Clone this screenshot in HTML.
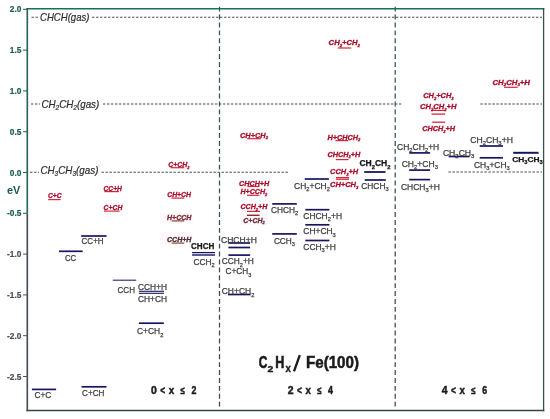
<!DOCTYPE html>
<html><head><meta charset="utf-8"><style>
html,body{margin:0;padding:0;background:#fff;}
body{width:550px;height:419px;overflow:hidden;}
svg{display:block;font-family:"Liberation Sans", sans-serif;will-change:transform;}
#w{width:550px;height:419px;}
</style></head><body><div id="w">
<svg width="550" height="419" viewBox="0 0 550 419">
<defs><linearGradient id="vg" x1="0" y1="0" x2="0" y2="419" gradientUnits="userSpaceOnUse"><stop offset="0" stop-color="#2a5853"/><stop offset="0.45" stop-color="#34504e"/><stop offset="0.6" stop-color="#424848"/><stop offset="1" stop-color="#444444"/></linearGradient></defs>
<rect width="550" height="419" fill="#fff"/>
<line x1="31.5" y1="17.3" x2="38" y2="17.3" stroke="#4c4c4c" stroke-width="1.1" stroke-dasharray="2.4 1.6"/>
<line x1="92" y1="17.3" x2="542" y2="17.3" stroke="#4c4c4c" stroke-width="1.1" stroke-dasharray="2.4 1.6"/>
<line x1="31" y1="104.0" x2="40" y2="104.0" stroke="#4c4c4c" stroke-width="1.1" stroke-dasharray="2.4 1.6"/>
<line x1="103" y1="104.0" x2="402" y2="104.0" stroke="#4c4c4c" stroke-width="1.1" stroke-dasharray="2.4 1.6"/>
<line x1="480.4" y1="104.0" x2="542" y2="104.0" stroke="#4c4c4c" stroke-width="1.1" stroke-dasharray="2.4 1.6"/>
<line x1="30" y1="172.3" x2="39" y2="172.3" stroke="#4c4c4c" stroke-width="1.1" stroke-dasharray="2.4 1.6"/>
<line x1="101.5" y1="172.3" x2="289" y2="172.3" stroke="#4c4c4c" stroke-width="1.1" stroke-dasharray="2.4 1.6"/>
<line x1="448.5" y1="172.0" x2="542" y2="172.0" stroke="#4c4c4c" stroke-width="1.1" stroke-dasharray="2.4 1.6"/>
<line x1="219.5" y1="6.7" x2="219.5" y2="406.5" stroke="url(#vg)" stroke-width="1.25" stroke-dasharray="4.9 3.0"/>
<line x1="395.2" y1="6.7" x2="395.2" y2="406.5" stroke="url(#vg)" stroke-width="1.25" stroke-dasharray="4.9 3.0"/>
<line x1="26.5" y1="8.75" x2="544.3" y2="8.75" stroke="#16705a" stroke-width="1.4"/>
<line x1="543.6" y1="8.1" x2="543.6" y2="411.3" stroke="#34504c" stroke-width="1.3"/>
<line x1="26.5" y1="410.6" x2="544.3" y2="410.6" stroke="#35434a" stroke-width="1.5"/>
<line x1="27.3" y1="8.1" x2="27.3" y2="213.4" stroke="#28685b" stroke-width="1.7"/>
<line x1="27.3" y1="213.4" x2="27.3" y2="411.3" stroke="#4a5055" stroke-width="1.7"/>
<line x1="23.0" y1="9.3" x2="27.3" y2="9.3" stroke="#1e5e53" stroke-width="1.0"/>
<text x="21.4" y="12.30" font-size="8.3" fill="#1e5e53" stroke="#1e5e53" stroke-width="0.2" font-weight="bold" text-anchor="end">2.0</text>
<line x1="23.0" y1="50.1" x2="27.3" y2="50.1" stroke="#1e5e53" stroke-width="1.0"/>
<text x="21.4" y="53.10" font-size="8.3" fill="#1e5e53" stroke="#1e5e53" stroke-width="0.2" font-weight="bold" text-anchor="end">1.5</text>
<line x1="23.0" y1="90.9" x2="27.3" y2="90.9" stroke="#1e5e53" stroke-width="1.0"/>
<text x="21.4" y="93.90" font-size="8.3" fill="#1e5e53" stroke="#1e5e53" stroke-width="0.2" font-weight="bold" text-anchor="end">1.0</text>
<line x1="23.0" y1="131.7" x2="27.3" y2="131.7" stroke="#1e5e53" stroke-width="1.0"/>
<text x="21.4" y="134.70" font-size="8.3" fill="#1e5e53" stroke="#1e5e53" stroke-width="0.2" font-weight="bold" text-anchor="end">0.5</text>
<line x1="23.0" y1="172.5" x2="27.3" y2="172.5" stroke="#1e5e53" stroke-width="1.0"/>
<text x="21.4" y="175.50" font-size="8.3" fill="#1e5e53" stroke="#1e5e53" stroke-width="0.2" font-weight="bold" text-anchor="end">0.0</text>
<line x1="23.0" y1="213.3" x2="27.3" y2="213.3" stroke="#1e5e53" stroke-width="1.0"/>
<text x="21.4" y="216.30" font-size="8.3" fill="#1e5e53" stroke="#1e5e53" stroke-width="0.2" font-weight="bold" text-anchor="end">-0.5</text>
<line x1="23.0" y1="254.1" x2="27.3" y2="254.1" stroke="#4a5055" stroke-width="1.0"/>
<text x="21.4" y="257.10" font-size="8.3" fill="#4a5055" stroke="#4a5055" stroke-width="0.2" font-weight="bold" text-anchor="end">-1.0</text>
<line x1="23.0" y1="294.9" x2="27.3" y2="294.9" stroke="#4a5055" stroke-width="1.0"/>
<text x="21.4" y="297.90" font-size="8.3" fill="#4a5055" stroke="#4a5055" stroke-width="0.2" font-weight="bold" text-anchor="end">-1.5</text>
<line x1="23.0" y1="335.7" x2="27.3" y2="335.7" stroke="#4a5055" stroke-width="1.0"/>
<text x="21.4" y="338.70" font-size="8.3" fill="#4a5055" stroke="#4a5055" stroke-width="0.2" font-weight="bold" text-anchor="end">-2.0</text>
<line x1="23.0" y1="376.5" x2="27.3" y2="376.5" stroke="#4a5055" stroke-width="1.0"/>
<text x="21.4" y="379.50" font-size="8.3" fill="#4a5055" stroke="#4a5055" stroke-width="0.2" font-weight="bold" text-anchor="end">-2.5</text>
<text x="7.0" y="193.8" font-size="10.8" fill="#1a5a50" font-weight="bold" font-style="normal" textLength="13.40" lengthAdjust="spacingAndGlyphs">eV</text>
<text x="40.0" y="21.1" font-size="10.4" fill="#2c2c2c" font-weight="normal" font-style="italic" textLength="49.50" lengthAdjust="spacingAndGlyphs" stroke="#2c2c2c" stroke-width="0.2">CHCH(gas)</text>
<text x="41.4" y="107.8" font-size="10.2" fill="#2c2c2c" font-weight="normal" font-style="italic" textLength="57.90" lengthAdjust="spacingAndGlyphs" stroke="#2c2c2c" stroke-width="0.2">CH<tspan font-size="6.73" dy="2.04">2</tspan><tspan dy="-2.04">​</tspan>CH<tspan font-size="6.73" dy="2.04">2</tspan><tspan dy="-2.04">​</tspan>(gas)</text>
<text x="40.4" y="173.8" font-size="10.2" fill="#2c2c2c" font-weight="normal" font-style="italic" textLength="58.10" lengthAdjust="spacingAndGlyphs" stroke="#2c2c2c" stroke-width="0.2">CH<tspan font-size="6.73" dy="2.04">3</tspan><tspan dy="-2.04">​</tspan>CH<tspan font-size="6.73" dy="2.04">3</tspan><tspan dy="-2.04">​</tspan>(gas)</text>
<line x1="48.2" y1="199.6" x2="60.7" y2="199.6" stroke="#d8263c" stroke-width="1.2"/>
<text x="47.9" y="198.4" font-size="7.45" fill="#a80f2c" font-weight="bold" font-style="italic" textLength="13.60" lengthAdjust="spacingAndGlyphs" stroke="#a80f2c" stroke-width="0.3">C+C</text>
<line x1="104.4" y1="191.6" x2="118.9" y2="191.6" stroke="#d8263c" stroke-width="1.2"/>
<text x="103.6" y="190.7" font-size="7.45" fill="#a80f2c" font-weight="bold" font-style="italic" textLength="18.20" lengthAdjust="spacingAndGlyphs" stroke="#a80f2c" stroke-width="0.3">CC+H</text>
<line x1="104.0" y1="211.1" x2="119.6" y2="211.1" stroke="#d8263c" stroke-width="1.2"/>
<text x="103.6" y="209.9" font-size="7.45" fill="#a80f2c" font-weight="bold" font-style="italic" textLength="18.70" lengthAdjust="spacingAndGlyphs" stroke="#a80f2c" stroke-width="0.3">C+CH</text>
<line x1="170.7" y1="167.7" x2="184.3" y2="167.7" stroke="#d8263c" stroke-width="1.2"/>
<text x="168.2" y="166.9" font-size="7.45" fill="#a80f2c" font-weight="bold" font-style="italic" textLength="21.20" lengthAdjust="spacingAndGlyphs" stroke="#a80f2c" stroke-width="0.3">C+CH<tspan font-size="4.17" dy="1.79">2</tspan><tspan dy="-1.79">​</tspan></text>
<line x1="171.5" y1="198.1" x2="184.3" y2="198.1" stroke="#d8263c" stroke-width="1.2"/>
<text x="167.2" y="197.0" font-size="7.45" fill="#a80f2c" font-weight="bold" font-style="italic" textLength="23.80" lengthAdjust="spacingAndGlyphs" stroke="#a80f2c" stroke-width="0.3">CH+CH</text>
<rect x="160.2" y="213" width="32.2" height="10.8" fill="#fef8fa"/>
<rect x="160.2" y="232" width="32.2" height="12" fill="#fef8fa"/>
<line x1="171.7" y1="220.9" x2="184.2" y2="220.9" stroke="#8a4038" stroke-width="1.2"/>
<text x="167.0" y="219.7" font-size="7.45" fill="#7c2634" font-weight="bold" font-style="italic" textLength="24.40" lengthAdjust="spacingAndGlyphs" stroke="#7c2634" stroke-width="0.3">H+CCH</text>
<line x1="171.7" y1="243.1" x2="184.2" y2="243.1" stroke="#8a5038" stroke-width="1.2"/>
<text x="167.0" y="242.1" font-size="7.45" fill="#4f2d33" font-weight="bold" font-style="italic" textLength="24.40" lengthAdjust="spacingAndGlyphs" stroke="#4f2d33" stroke-width="0.3">CCH+H</text>
<line x1="337.8" y1="48.0" x2="351.2" y2="48.0" stroke="#d8263c" stroke-width="1.2"/>
<text x="328.6" y="44.8" font-size="7.45" fill="#a80f2c" font-weight="bold" font-style="italic" textLength="31.40" lengthAdjust="spacingAndGlyphs" stroke="#a80f2c" stroke-width="0.3">CH<tspan font-size="4.17" dy="1.79">2</tspan><tspan dy="-1.79">​</tspan>+CH<tspan font-size="4.17" dy="1.79">2</tspan><tspan dy="-1.79">​</tspan></text>
<line x1="247.2" y1="138.7" x2="260.8" y2="138.7" stroke="#d8263c" stroke-width="1.2"/>
<text x="240.0" y="137.6" font-size="7.45" fill="#a80f2c" font-weight="bold" font-style="italic" textLength="28.00" lengthAdjust="spacingAndGlyphs" stroke="#a80f2c" stroke-width="0.3">CH+CH<tspan font-size="4.17" dy="1.79">2</tspan><tspan dy="-1.79">​</tspan></text>
<line x1="335.5" y1="140.6" x2="348.3" y2="140.6" stroke="#d8263c" stroke-width="1.2"/>
<text x="327.5" y="139.6" font-size="7.45" fill="#a80f2c" font-weight="bold" font-style="italic" textLength="32.80" lengthAdjust="spacingAndGlyphs" stroke="#a80f2c" stroke-width="0.3">H+CHCH<tspan font-size="4.17" dy="1.79">2</tspan><tspan dy="-1.79">​</tspan></text>
<line x1="335.8" y1="159.6" x2="348.5" y2="159.6" stroke="#d8263c" stroke-width="1.2"/>
<text x="327.5" y="156.6" font-size="7.45" fill="#a80f2c" font-weight="bold" font-style="italic" textLength="32.90" lengthAdjust="spacingAndGlyphs" stroke="#a80f2c" stroke-width="0.3">CHCH<tspan font-size="4.17" dy="1.79">2</tspan><tspan dy="-1.79">​</tspan>+H</text>
<line x1="336.0" y1="177.6" x2="349.0" y2="177.6" stroke="#d8263c" stroke-width="1.3"/>
<line x1="336.0" y1="179.2" x2="349.0" y2="179.2" stroke="#d8263c" stroke-width="1.3"/>
<text x="330.1" y="174.3" font-size="7.45" fill="#a80f2c" font-weight="bold" font-style="italic" textLength="28.00" lengthAdjust="spacingAndGlyphs" stroke="#a80f2c" stroke-width="0.3">CCH<tspan font-size="4.17" dy="1.79">3</tspan><tspan dy="-1.79">​</tspan>+H</text>
<text x="330.0" y="187.0" font-size="7.45" fill="#a80f2c" font-weight="bold" font-style="italic" textLength="28.30" lengthAdjust="spacingAndGlyphs" stroke="#a80f2c" stroke-width="0.3">CH+CH<tspan font-size="4.17" dy="1.79">3</tspan><tspan dy="-1.79">​</tspan></text>
<line x1="247.6" y1="186.5" x2="259.4" y2="186.5" stroke="#d8263c" stroke-width="1.2"/>
<text x="239.0" y="185.8" font-size="7.45" fill="#a80f2c" font-weight="bold" font-style="italic" textLength="30.30" lengthAdjust="spacingAndGlyphs" stroke="#a80f2c" stroke-width="0.3">CHCH+H</text>
<line x1="247.0" y1="195.3" x2="259.4" y2="195.3" stroke="#d8263c" stroke-width="1.2"/>
<text x="240.4" y="194.3" font-size="7.45" fill="#a80f2c" font-weight="bold" font-style="italic" textLength="26.90" lengthAdjust="spacingAndGlyphs" stroke="#a80f2c" stroke-width="0.3">H+CCH<tspan font-size="4.17" dy="1.79">2</tspan><tspan dy="-1.79">​</tspan></text>
<line x1="247.0" y1="211.4" x2="260.0" y2="211.4" stroke="#d8263c" stroke-width="1.2"/>
<text x="240.4" y="209.4" font-size="7.45" fill="#a80f2c" font-weight="bold" font-style="italic" textLength="26.90" lengthAdjust="spacingAndGlyphs" stroke="#a80f2c" stroke-width="0.3">CCH<tspan font-size="4.17" dy="1.79">2</tspan><tspan dy="-1.79">​</tspan>+H</text>
<rect x="240.4" y="212.5" width="27" height="12.5" fill="#fef8fa"/>
<line x1="246.9" y1="215.3" x2="259.6" y2="215.3" stroke="#8a2a38" stroke-width="1.4"/>
<text x="243.3" y="222.6" font-size="7.45" fill="#6a2a30" font-weight="bold" font-style="italic" textLength="21.40" lengthAdjust="spacingAndGlyphs" stroke="#6a2a30" stroke-width="0.3">C+CH<tspan font-size="4.17" dy="1.79">2</tspan><tspan dy="-1.79">​</tspan></text>
<text x="423.2" y="98.3" font-size="7.45" fill="#a80f2c" font-weight="bold" font-style="italic" textLength="30.50" lengthAdjust="spacingAndGlyphs" stroke="#a80f2c" stroke-width="0.3">CH<tspan font-size="4.17" dy="1.79">2</tspan><tspan dy="-1.79">​</tspan>+CH<tspan font-size="4.17" dy="1.79">3</tspan><tspan dy="-1.79">​</tspan></text>
<line x1="431.5" y1="110.4" x2="445.1" y2="110.4" stroke="#d8263c" stroke-width="1.2"/>
<text x="420.0" y="109.3" font-size="7.45" fill="#a80f2c" font-weight="bold" font-style="italic" textLength="36.50" lengthAdjust="spacingAndGlyphs" stroke="#a80f2c" stroke-width="0.3">CH<tspan font-size="4.17" dy="1.79">2</tspan><tspan dy="-1.79">​</tspan>CH<tspan font-size="4.17" dy="1.79">2</tspan><tspan dy="-1.79">​</tspan>+H</text>
<line x1="431.5" y1="114.1" x2="445.1" y2="114.1" stroke="#d8263c" stroke-width="1.3"/>
<line x1="432.2" y1="122.2" x2="445.1" y2="122.2" stroke="#d8263c" stroke-width="1.3"/>
<text x="422.2" y="130.8" font-size="7.45" fill="#a80f2c" font-weight="bold" font-style="italic" textLength="32.90" lengthAdjust="spacingAndGlyphs" stroke="#a80f2c" stroke-width="0.3">CHCH<tspan font-size="4.17" dy="1.79">3</tspan><tspan dy="-1.79">​</tspan>+H</text>
<line x1="504.1" y1="87.3" x2="517.7" y2="87.3" stroke="#d8263c" stroke-width="1.2"/>
<text x="492.5" y="84.5" font-size="7.45" fill="#a80f2c" font-weight="bold" font-style="italic" textLength="37.50" lengthAdjust="spacingAndGlyphs" stroke="#a80f2c" stroke-width="0.3">CH<tspan font-size="4.17" dy="1.79">2</tspan><tspan dy="-1.79">​</tspan>CH<tspan font-size="4.17" dy="1.79">3</tspan><tspan dy="-1.79">​</tspan>+H</text>
<line x1="81.2" y1="236.0" x2="106.5" y2="236.0" stroke="#16165e" stroke-width="1.7"/>
<text x="81.6" y="244.4" font-size="8.6" fill="#3e3e3e" font-weight="normal" font-style="normal" textLength="22.00" lengthAdjust="spacingAndGlyphs" stroke="#3e3e3e" stroke-width="0.25">CC+H</text>
<line x1="59.0" y1="251.3" x2="82.7" y2="251.3" stroke="#16165e" stroke-width="1.7"/>
<text x="65.0" y="260.6" font-size="8.6" fill="#3e3e3e" font-weight="normal" font-style="normal" textLength="11.20" lengthAdjust="spacingAndGlyphs" stroke="#3e3e3e" stroke-width="0.25">CC</text>
<line x1="112.7" y1="280.2" x2="136.2" y2="280.2" stroke="#24246e" stroke-width="1.1"/>
<text x="117.5" y="292.5" font-size="8.6" fill="#3e3e3e" font-weight="normal" font-style="normal" textLength="17.50" lengthAdjust="spacingAndGlyphs" stroke="#3e3e3e" stroke-width="0.25">CCH</text>
<line x1="138.8" y1="291.3" x2="164.0" y2="291.3" stroke="#16165e" stroke-width="1.1"/>
<line x1="138.8" y1="293.3" x2="164.0" y2="293.3" stroke="#16165e" stroke-width="1.1"/>
<text x="138.0" y="289.5" font-size="8.6" fill="#3e3e3e" font-weight="normal" font-style="normal" textLength="29.10" lengthAdjust="spacingAndGlyphs" stroke="#3e3e3e" stroke-width="0.25">CCH+H</text>
<text x="138.0" y="302.0" font-size="8.6" fill="#3e3e3e" font-weight="normal" font-style="normal" textLength="29.00" lengthAdjust="spacingAndGlyphs" stroke="#3e3e3e" stroke-width="0.25">CH+CH</text>
<line x1="138.9" y1="323.2" x2="163.8" y2="323.2" stroke="#16165e" stroke-width="1.7"/>
<text x="137.0" y="334.3" font-size="8.6" fill="#3e3e3e" font-weight="normal" font-style="normal" textLength="26.40" lengthAdjust="spacingAndGlyphs" stroke="#3e3e3e" stroke-width="0.25">C+CH<tspan font-size="5.85" dy="2.24">2</tspan><tspan dy="-2.24">​</tspan></text>
<line x1="192.1" y1="252.6" x2="215.1" y2="252.6" stroke="#16165e" stroke-width="1.3"/>
<line x1="192.1" y1="255.0" x2="215.1" y2="255.0" stroke="#16165e" stroke-width="1.4"/>
<text x="191.0" y="249.4" font-size="8.3" fill="#161616" font-weight="bold" font-style="normal" textLength="23.40" lengthAdjust="spacingAndGlyphs" stroke="#161616" stroke-width="0.25">CHCH</text>
<text x="193.4" y="264.6" font-size="8.6" fill="#3e3e3e" font-weight="normal" font-style="normal" textLength="21.20" lengthAdjust="spacingAndGlyphs" stroke="#3e3e3e" stroke-width="0.25">CCH<tspan font-size="5.85" dy="2.24">2</tspan><tspan dy="-2.24">​</tspan></text>
<line x1="31.9" y1="389.4" x2="56.1" y2="389.4" stroke="#16165e" stroke-width="1.7"/>
<text x="34.5" y="398.2" font-size="8.6" fill="#3e3e3e" font-weight="normal" font-style="normal" textLength="16.70" lengthAdjust="spacingAndGlyphs" stroke="#3e3e3e" stroke-width="0.25">C+C</text>
<line x1="81.5" y1="386.8" x2="106.5" y2="386.8" stroke="#16165e" stroke-width="1.7"/>
<text x="82.0" y="396.0" font-size="8.6" fill="#3e3e3e" font-weight="normal" font-style="normal" textLength="22.40" lengthAdjust="spacingAndGlyphs" stroke="#3e3e3e" stroke-width="0.25">C+CH</text>
<line x1="364.2" y1="172.0" x2="385.5" y2="172.0" stroke="#16165e" stroke-width="1.8"/>
<text x="359.4" y="166.4" font-size="8.3" fill="#161616" font-weight="bold" font-style="normal" textLength="31.10" lengthAdjust="spacingAndGlyphs" stroke="#161616" stroke-width="0.25">CH<tspan font-size="5.64" dy="2.16">2</tspan><tspan dy="-2.16">​</tspan>CH<tspan font-size="5.64" dy="2.16">2</tspan><tspan dy="-2.16">​</tspan></text>
<line x1="364.7" y1="180.0" x2="385.8" y2="180.0" stroke="#16165e" stroke-width="1.7"/>
<text x="361.3" y="188.9" font-size="8.6" fill="#3e3e3e" font-weight="normal" font-style="normal" textLength="27.30" lengthAdjust="spacingAndGlyphs" stroke="#3e3e3e" stroke-width="0.25">CHCH<tspan font-size="5.85" dy="2.24">3</tspan><tspan dy="-2.24">​</tspan></text>
<line x1="304.7" y1="179.0" x2="328.9" y2="179.0" stroke="#16165e" stroke-width="1.7"/>
<text x="294.1" y="188.8" font-size="8.6" fill="#3e3e3e" font-weight="normal" font-style="normal" textLength="35.80" lengthAdjust="spacingAndGlyphs" stroke="#3e3e3e" stroke-width="0.25">CH<tspan font-size="5.85" dy="2.24">2</tspan><tspan dy="-2.24">​</tspan>+CH<tspan font-size="5.85" dy="2.24">2</tspan><tspan dy="-2.24">​</tspan></text>
<line x1="272.2" y1="203.9" x2="296.8" y2="203.9" stroke="#16165e" stroke-width="1.7"/>
<text x="271.0" y="212.5" font-size="8.6" fill="#3e3e3e" font-weight="normal" font-style="normal" textLength="27.20" lengthAdjust="spacingAndGlyphs" stroke="#3e3e3e" stroke-width="0.25">CHCH<tspan font-size="5.85" dy="2.24">2</tspan><tspan dy="-2.24">​</tspan></text>
<line x1="272.2" y1="233.9" x2="296.8" y2="233.9" stroke="#16165e" stroke-width="1.7"/>
<text x="273.9" y="243.7" font-size="8.6" fill="#3e3e3e" font-weight="normal" font-style="normal" textLength="21.10" lengthAdjust="spacingAndGlyphs" stroke="#3e3e3e" stroke-width="0.25">CCH<tspan font-size="5.85" dy="2.24">3</tspan><tspan dy="-2.24">​</tspan></text>
<line x1="305.3" y1="209.7" x2="329.4" y2="209.7" stroke="#16165e" stroke-width="1.7"/>
<text x="303.3" y="218.6" font-size="8.6" fill="#3e3e3e" font-weight="normal" font-style="normal" textLength="38.70" lengthAdjust="spacingAndGlyphs" stroke="#3e3e3e" stroke-width="0.25">CHCH<tspan font-size="5.85" dy="2.24">2</tspan><tspan dy="-2.24">​</tspan>+H</text>
<line x1="305.3" y1="224.8" x2="329.4" y2="224.8" stroke="#16165e" stroke-width="1.7"/>
<text x="303.3" y="234.4" font-size="8.6" fill="#3e3e3e" font-weight="normal" font-style="normal" textLength="32.50" lengthAdjust="spacingAndGlyphs" stroke="#3e3e3e" stroke-width="0.25">CH+CH<tspan font-size="5.85" dy="2.24">3</tspan><tspan dy="-2.24">​</tspan></text>
<line x1="305.3" y1="240.5" x2="329.4" y2="240.5" stroke="#16165e" stroke-width="1.7"/>
<text x="303.3" y="249.7" font-size="8.6" fill="#3e3e3e" font-weight="normal" font-style="normal" textLength="32.50" lengthAdjust="spacingAndGlyphs" stroke="#3e3e3e" stroke-width="0.25">CCH<tspan font-size="5.85" dy="2.24">3</tspan><tspan dy="-2.24">​</tspan>+H</text>
<line x1="228.4" y1="243.0" x2="250.1" y2="243.0" stroke="#16165e" stroke-width="1.7"/>
<line x1="228.4" y1="247.5" x2="250.1" y2="247.5" stroke="#16165e" stroke-width="1.7"/>
<line x1="228.4" y1="255.1" x2="250.1" y2="255.1" stroke="#16165e" stroke-width="1.7"/>
<text x="221.0" y="242.5" font-size="8.6" fill="#3e3e3e" font-weight="normal" font-style="normal" textLength="35.80" lengthAdjust="spacingAndGlyphs" stroke="#3e3e3e" stroke-width="0.25">CHCH+H</text>
<text x="221.7" y="264.3" font-size="8.6" fill="#3e3e3e" font-weight="normal" font-style="normal" textLength="32.20" lengthAdjust="spacingAndGlyphs" stroke="#3e3e3e" stroke-width="0.25">CCH<tspan font-size="5.85" dy="2.24">2</tspan><tspan dy="-2.24">​</tspan>+H</text>
<text x="225.5" y="274.3" font-size="8.6" fill="#3e3e3e" font-weight="normal" font-style="normal" textLength="25.90" lengthAdjust="spacingAndGlyphs" stroke="#3e3e3e" stroke-width="0.25">C+CH<tspan font-size="5.85" dy="2.24">3</tspan><tspan dy="-2.24">​</tspan></text>
<line x1="228.0" y1="294.5" x2="250.6" y2="294.5" stroke="#16165e" stroke-width="1.7"/>
<text x="221.7" y="294.3" font-size="8.6" fill="#3e3e3e" font-weight="normal" font-style="normal" textLength="32.70" lengthAdjust="spacingAndGlyphs" stroke="#3e3e3e" stroke-width="0.25">CH+CH<tspan font-size="5.85" dy="2.24">2</tspan><tspan dy="-2.24">​</tspan></text>
<line x1="409.2" y1="152.9" x2="430.1" y2="152.9" stroke="#16165e" stroke-width="1.7"/>
<text x="397.0" y="149.7" font-size="8.6" fill="#3e3e3e" font-weight="normal" font-style="normal" textLength="42.30" lengthAdjust="spacingAndGlyphs" stroke="#3e3e3e" stroke-width="0.25">CH<tspan font-size="5.85" dy="2.24">2</tspan><tspan dy="-2.24">​</tspan>CH<tspan font-size="5.85" dy="2.24">2</tspan><tspan dy="-2.24">​</tspan>+H</text>
<line x1="409.2" y1="170.1" x2="430.1" y2="170.1" stroke="#16165e" stroke-width="1.7"/>
<text x="401.7" y="166.7" font-size="8.6" fill="#3e3e3e" font-weight="normal" font-style="normal" textLength="36.20" lengthAdjust="spacingAndGlyphs" stroke="#3e3e3e" stroke-width="0.25">CH<tspan font-size="5.85" dy="2.24">2</tspan><tspan dy="-2.24">​</tspan>+CH<tspan font-size="5.85" dy="2.24">3</tspan><tspan dy="-2.24">​</tspan></text>
<line x1="409.2" y1="179.6" x2="430.1" y2="179.6" stroke="#16165e" stroke-width="1.7"/>
<text x="400.9" y="189.8" font-size="8.6" fill="#3e3e3e" font-weight="normal" font-style="normal" textLength="38.90" lengthAdjust="spacingAndGlyphs" stroke="#3e3e3e" stroke-width="0.25">CHCH<tspan font-size="5.85" dy="2.24">3</tspan><tspan dy="-2.24">​</tspan>+H</text>
<line x1="448.6" y1="156.5" x2="469.6" y2="156.5" stroke="#16165e" stroke-width="1.7"/>
<text x="442.9" y="155.5" font-size="8.6" fill="#3e3e3e" font-weight="normal" font-style="normal" textLength="31.50" lengthAdjust="spacingAndGlyphs" stroke="#3e3e3e" stroke-width="0.25">CH<tspan font-size="5.85" dy="2.24">2</tspan><tspan dy="-2.24">​</tspan>CH<tspan font-size="5.85" dy="2.24">3</tspan><tspan dy="-2.24">​</tspan></text>
<line x1="479.7" y1="146.0" x2="503.0" y2="146.0" stroke="#16165e" stroke-width="1.7"/>
<text x="470.2" y="142.6" font-size="8.6" fill="#3e3e3e" font-weight="normal" font-style="normal" textLength="42.70" lengthAdjust="spacingAndGlyphs" stroke="#3e3e3e" stroke-width="0.25">CH<tspan font-size="5.85" dy="2.24">2</tspan><tspan dy="-2.24">​</tspan>CH<tspan font-size="5.85" dy="2.24">3</tspan><tspan dy="-2.24">​</tspan>+H</text>
<line x1="479.7" y1="157.8" x2="503.0" y2="157.8" stroke="#16165e" stroke-width="1.7"/>
<text x="474.0" y="168.0" font-size="8.6" fill="#3e3e3e" font-weight="normal" font-style="normal" textLength="35.70" lengthAdjust="spacingAndGlyphs" stroke="#3e3e3e" stroke-width="0.25">CH<tspan font-size="5.85" dy="2.24">3</tspan><tspan dy="-2.24">​</tspan>+CH<tspan font-size="5.85" dy="2.24">3</tspan><tspan dy="-2.24">​</tspan></text>
<line x1="513.2" y1="152.8" x2="538.6" y2="152.8" stroke="#16165e" stroke-width="2.0"/>
<text x="512.3" y="161.8" font-size="8.0" fill="#161616" font-weight="bold" font-style="normal" textLength="30.40" lengthAdjust="spacingAndGlyphs" stroke="#161616" stroke-width="0.25">CH<tspan font-size="5.44" dy="2.08">3</tspan><tspan dy="-2.08">​</tspan>CH<tspan font-size="5.44" dy="2.08">3</tspan><tspan dy="-2.08">​</tspan></text>
<text x="258.7" y="368.3" font-size="16.2" fill="#1a1a1a" font-weight="bold" font-style="normal" textLength="8.60" lengthAdjust="spacingAndGlyphs" stroke="#1a1a1a" stroke-width="0.6">C</text>
<text x="267.6" y="372.0" font-size="9.6" fill="#1a1a1a" font-weight="bold" font-style="normal" textLength="5.80" lengthAdjust="spacingAndGlyphs" stroke="#1a1a1a" stroke-width="0.4">2</text>
<text x="275.2" y="368.3" font-size="16.2" fill="#1a1a1a" font-weight="bold" font-style="normal" textLength="9.10" lengthAdjust="spacingAndGlyphs" stroke="#1a1a1a" stroke-width="0.6">H</text>
<text x="285.6" y="372.4" font-size="11.0" fill="#1a1a1a" font-weight="bold" font-style="normal" textLength="5.40" lengthAdjust="spacingAndGlyphs" stroke="#1a1a1a" stroke-width="0.4">x</text>
<line x1="294.0" y1="371.4" x2="299.8" y2="355.2" stroke="#1a1a1a" stroke-width="2.3"/>
<text x="306.0" y="368.3" font-size="16.2" fill="#1a1a1a" font-weight="bold" font-style="normal" textLength="53.00" lengthAdjust="spacingAndGlyphs" stroke="#1a1a1a" stroke-width="0.5">Fe(100)</text>
<text x="151.00" y="394.0" font-size="10.2" fill="#1a1a1a" stroke="#1a1a1a" stroke-width="0.45" font-weight="bold" textLength="5.8" lengthAdjust="spacingAndGlyphs">0</text>
<text x="160.30" y="394.0" font-size="10.2" fill="#1a1a1a" stroke="#1a1a1a" stroke-width="0.45" font-weight="bold" textLength="4.9" lengthAdjust="spacingAndGlyphs">&lt;</text>
<text x="168.80" y="394.0" font-size="10.2" fill="#1a1a1a" stroke="#1a1a1a" stroke-width="0.45" font-weight="bold" textLength="5.4" lengthAdjust="spacingAndGlyphs">x</text>
<text x="180.50" y="394.0" font-size="10.2" fill="#1a1a1a" stroke="#1a1a1a" stroke-width="0.45" font-weight="bold" textLength="4.3" lengthAdjust="spacingAndGlyphs">≤</text>
<text x="191.40" y="394.0" font-size="10.2" fill="#1a1a1a" stroke="#1a1a1a" stroke-width="0.45" font-weight="bold" textLength="4.9" lengthAdjust="spacingAndGlyphs">2</text>
<text x="287.70" y="394.2" font-size="10.2" fill="#1a1a1a" stroke="#1a1a1a" stroke-width="0.45" font-weight="bold" textLength="5.8" lengthAdjust="spacingAndGlyphs">2</text>
<text x="297.00" y="394.2" font-size="10.2" fill="#1a1a1a" stroke="#1a1a1a" stroke-width="0.45" font-weight="bold" textLength="4.9" lengthAdjust="spacingAndGlyphs">&lt;</text>
<text x="305.50" y="394.2" font-size="10.2" fill="#1a1a1a" stroke="#1a1a1a" stroke-width="0.45" font-weight="bold" textLength="5.4" lengthAdjust="spacingAndGlyphs">x</text>
<text x="317.20" y="394.2" font-size="10.2" fill="#1a1a1a" stroke="#1a1a1a" stroke-width="0.45" font-weight="bold" textLength="4.3" lengthAdjust="spacingAndGlyphs">≤</text>
<text x="328.10" y="394.2" font-size="10.2" fill="#1a1a1a" stroke="#1a1a1a" stroke-width="0.45" font-weight="bold" textLength="4.9" lengthAdjust="spacingAndGlyphs">4</text>
<text x="441.80" y="394.1" font-size="10.2" fill="#1a1a1a" stroke="#1a1a1a" stroke-width="0.45" font-weight="bold" textLength="5.8" lengthAdjust="spacingAndGlyphs">4</text>
<text x="451.10" y="394.1" font-size="10.2" fill="#1a1a1a" stroke="#1a1a1a" stroke-width="0.45" font-weight="bold" textLength="4.9" lengthAdjust="spacingAndGlyphs">&lt;</text>
<text x="459.60" y="394.1" font-size="10.2" fill="#1a1a1a" stroke="#1a1a1a" stroke-width="0.45" font-weight="bold" textLength="5.4" lengthAdjust="spacingAndGlyphs">x</text>
<text x="471.30" y="394.1" font-size="10.2" fill="#1a1a1a" stroke="#1a1a1a" stroke-width="0.45" font-weight="bold" textLength="4.3" lengthAdjust="spacingAndGlyphs">≤</text>
<text x="482.20" y="394.1" font-size="10.2" fill="#1a1a1a" stroke="#1a1a1a" stroke-width="0.45" font-weight="bold" textLength="4.9" lengthAdjust="spacingAndGlyphs">6</text>
</svg></div>
</body></html>
